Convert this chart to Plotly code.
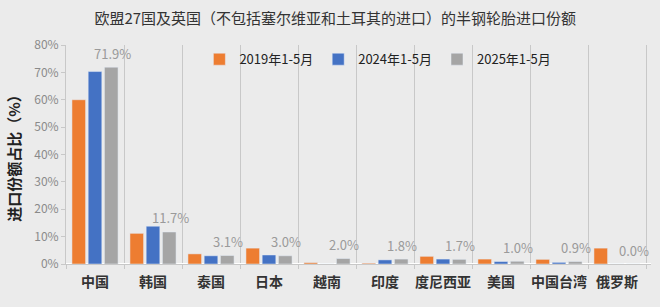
import plotly.graph_objects as go

categories = ["中国", "韩国", "泰国", "日本", "越南", "印度", "度尼西亚", "美国", "中国台湾", "俄罗斯"]
s2019 = [60.0, 11.2, 3.7, 5.8, 0.5, 0.3, 2.8, 1.8, 1.7, 5.8]
s2024 = [70.3, 13.8, 3.0, 3.3, 0.0, 1.5, 1.8, 0.9, 0.6, 0.0]
s2025 = [71.9, 11.7, 3.1, 3.0, 2.0, 1.8, 1.7, 1.0, 0.9, 0.0]
series_names = ["2019年1-5月", "2024年1-5月", "2025年1-5月"]
colors = ["#ED7D31", "#4472C4", "#A5A5A5"]

FONT = "Noto Sans CJK SC"
fig = go.Figure()
for name, vals, c in zip(series_names, [s2019, s2024, s2025], colors):
    fig.add_trace(go.Bar(x=categories, y=vals, name=name, marker_color=c))

for cat, v in zip(categories, s2025):
    fig.add_annotation(x=cat, y=v, text=f"{v:.1f}%", showarrow=False,
                       xshift=17, yshift=14, font=dict(family=FONT, size=13, color="#9a9a9a"))

fig.update_layout(
    width=660, height=307,
    paper_bgcolor="#ebebeb", plot_bgcolor="#ebebeb",
    margin=dict(l=66, r=9, t=45, b=43),
    barmode="group", bargap=0.16, bargroupgap=0.16,
    font=dict(family=FONT),
    title=dict(text="欧盟27国及英国（不包括塞尔维亚和土耳其的进口）的半钢轮胎进口份额",
               x=0.508, xanchor="center", y=0.94, yanchor="middle",
               font=dict(family=FONT, size=15, color="#333333")),
    legend=dict(orientation="h", x=0.228, y=0.935, xanchor="left", yanchor="middle",
                bgcolor="rgba(0,0,0,0)", font=dict(family=FONT, size=13, color="#222222"),
                itemwidth=30, traceorder="normal"),
    showlegend=True,
)
fig.update_xaxes(type="category", tickson="boundaries", showgrid=True, gridcolor="#c8c8c8",
                 gridwidth=1, ticks="outside", ticklen=4, tickcolor="#c8c8c8",
                 showline=True, linecolor="#c8c8c8", tickangle=0, automargin=False,
                 ticklabelstandoff=5,
                 tickfont=dict(family=FONT, size=14, color="#333333", weight="bold"))
fig.update_yaxes(range=[0, 80], dtick=10, ticksuffix="%", showgrid=False,
                 showline=True, linecolor="#c8c8c8", ticks="outside", ticklen=4, tickcolor="#c8c8c8",
                 tickfont=dict(family=FONT, size=12, color="#8a8a8a"),
                 title=dict(text="进口份额占比（%）", standoff=9,
                            font=dict(family=FONT, size=15, color="#222222", weight="bold")))

fig.write_html("out.html")
